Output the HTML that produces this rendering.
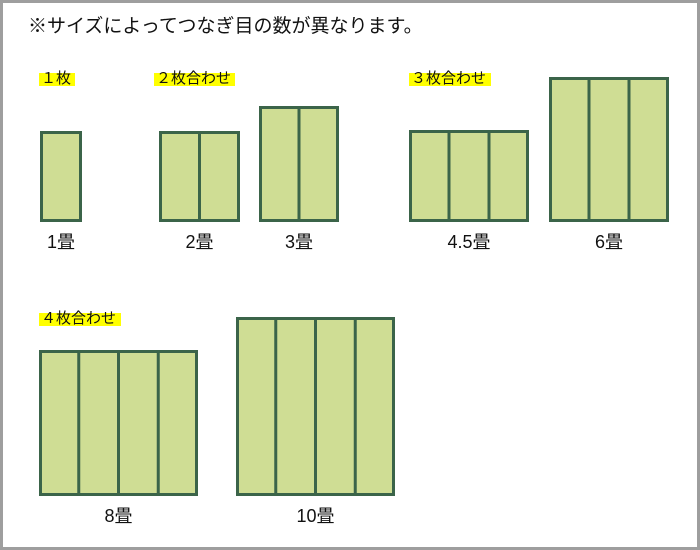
<!DOCTYPE html>
<html><head><meta charset="utf-8"><style>
html,body{margin:0;padding:0;background:#fff}
svg{display:block}
text{font-family:"Liberation Sans","Noto Sans CJK JP",sans-serif;fill:#111}
</style></head><body>
<svg width="700" height="550" viewBox="0 0 700 550">
<rect x="1.5" y="1.5" width="697" height="547" fill="#fff" stroke="#9e9e9e" stroke-width="3"/>
<text x="28" y="32" font-size="19">※サイズによってつなぎ目の数が異なります。</text>
<g id="hl"></g>
<g id="mats"></g>
</svg>
<script>
const ns='http://www.w3.org/2000/svg';
const groupLabels=['１枚','２枚合わせ','３枚合わせ','４枚合わせ'];
const groupPos=[[39,67,36],[154,67,81],[409,67,82],[39,307,82]];
const matLabels=['1畳','2畳','3畳','4.5畳','6畳','8畳','10畳'];
const matPanels=[1,2,2,3,3,4,4];
const matBoxes=[[40,131,42,91],[159,131,81,91],[259,106,80,116],[409,130,120,92],[549,77,120,145],[39,350,159,146],[236,317,159,179]];
const labelY=[248,248,248,248,248,522,522];
const hl=document.getElementById('hl');
groupLabels.forEach((t,i)=>{
 const [x,y,w]=groupPos[i];
 const r=document.createElementNS(ns,'rect');
 r.setAttribute('x',x);r.setAttribute('y',y+6);r.setAttribute('width',w);r.setAttribute('height',13);r.setAttribute('fill','#ffff00');
 
 
 hl.appendChild(r);
 const tx=document.createElementNS(ns,'text');
 tx.setAttribute('x',x+2);tx.setAttribute('y',y+16);tx.setAttribute('font-size','15');tx.textContent=t;
 
 
 hl.appendChild(tx);
});
const mats=document.getElementById('mats');
matLabels.forEach((t,i)=>{
 const [x,y,w,h]=matBoxes[i];
 const g=document.createElementNS(ns,'g');
 
 
 const r=document.createElementNS(ns,'rect');
 r.setAttribute('x',x+1.5);r.setAttribute('y',y+1.5);r.setAttribute('width',w-3);r.setAttribute('height',h-3);
 r.setAttribute('fill','#cfdd94');r.setAttribute('stroke','#3b6449');r.setAttribute('stroke-width','3');
 
 
 g.appendChild(r);
 const n=matPanels[i];
 for(let k=1;k<n;k++){
  const lx=x+w*k/n;
  const l=document.createElementNS(ns,'line');
  l.setAttribute('x1',lx);l.setAttribute('x2',lx);l.setAttribute('y1',y);l.setAttribute('y2',y+h);
  l.setAttribute('stroke','#3b6449');l.setAttribute('stroke-width','3');
  
  
  g.appendChild(l);
 }
 const tx=document.createElementNS(ns,'text');
 tx.setAttribute('x',x+w/2);tx.setAttribute('y',labelY[i]);tx.setAttribute('font-size','18');tx.setAttribute('text-anchor','middle');tx.textContent=t;
 
 
 g.appendChild(tx);
 mats.appendChild(g);
});
</script>
</body></html>
